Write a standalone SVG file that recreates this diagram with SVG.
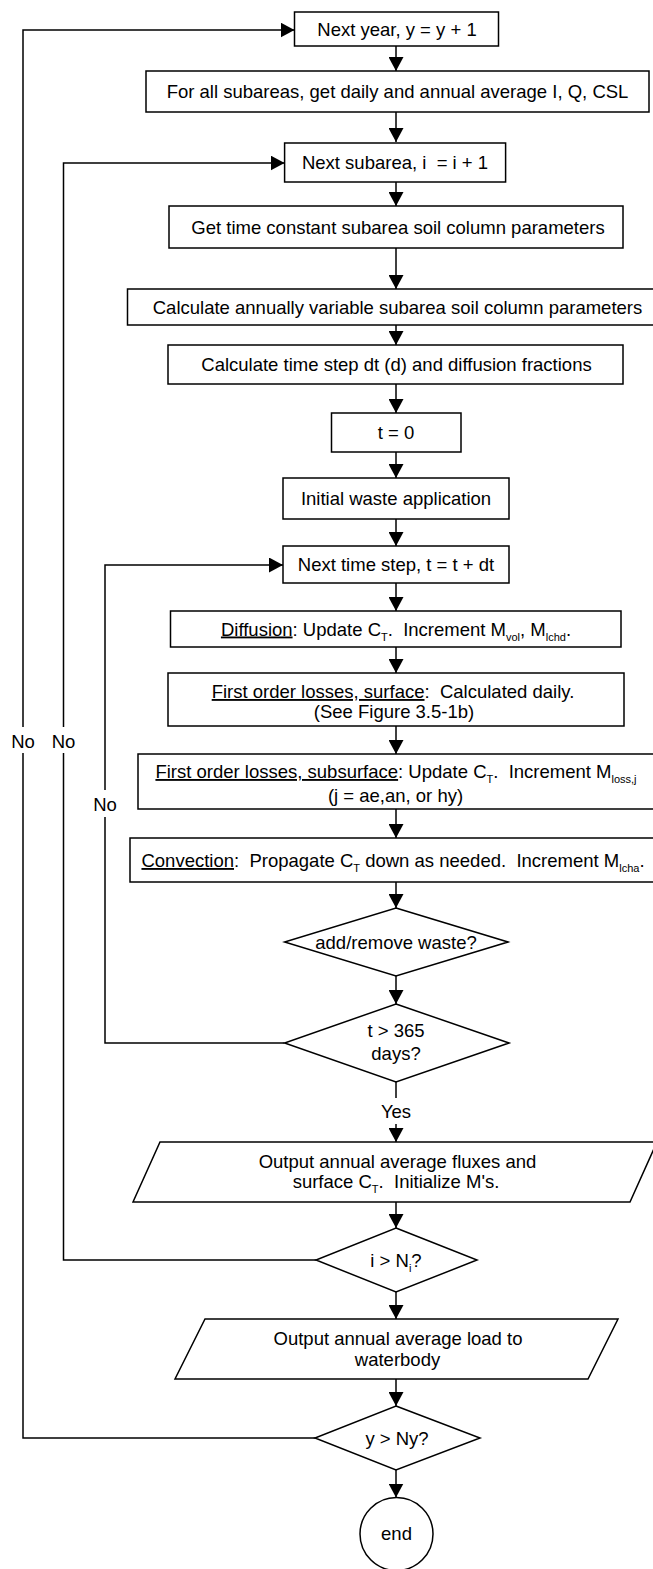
<svg xmlns="http://www.w3.org/2000/svg" width="653" height="1569" viewBox="0 0 653 1569">
<style>
.box{fill:#fff;stroke:#000;stroke-width:1.5}
.t{font-family:"Liberation Sans",Arial,sans-serif;font-size:18.5px;fill:#000;text-anchor:middle}
.s{font-size:11px}
.u{text-decoration:underline}
.c{fill:none;stroke:#000;stroke-width:1.5}
.a{fill:none;stroke:#000;stroke-width:1.5;marker-end:url(#ah)}
</style>
<defs>
<marker id="ah" viewBox="0 0 14 15" refX="14" refY="7.5" markerWidth="14" markerHeight="15" markerUnits="userSpaceOnUse" orient="auto"><path d="M0,0 L14,7.5 L0,15 z" fill="#000"/></marker>
</defs>
<rect x="0" y="0" width="653" height="1569" fill="#fff"/>
<g id="connectors">
<path class="a" d="M396,46 V71"/>
<path class="a" d="M396,112 V142"/>
<path class="a" d="M396,182 V206"/>
<path class="a" d="M396,248 V289"/>
<path class="a" d="M396,325 V345"/>
<path class="a" d="M396,384 V413"/>
<path class="a" d="M396,452 V478"/>
<path class="a" d="M396,519 V546"/>
<path class="a" d="M396,583 V611"/>
<path class="a" d="M396,647 V673"/>
<path class="a" d="M396,726 V754"/>
<path class="a" d="M396,809 V838"/>
<path class="a" d="M396,882 V908"/>
<path class="a" d="M396,976 V1004"/>
<path class="c" d="M396,1082 V1098"/>
<path class="a" d="M396,1124 V1142"/>
<path class="a" d="M396,1202 V1228"/>
<path class="a" d="M396,1292 V1319"/>
<path class="a" d="M396,1379 V1406"/>
<path class="a" d="M396,1470 V1497.5"/>
<path class="c" d="M284.6,1043 H105 V817"/>
<path class="a" d="M105,790 V565 H283"/>
<path class="c" d="M316,1260 H63.5 V753"/>
<path class="a" d="M63.5,727 V163 H284.6"/>
<path class="c" d="M315,1438 H23 V753"/>
<path class="a" d="M23,727 V30 H294.5"/>
<text class="t" x="23" y="748">No</text>
<text class="t" x="63.5" y="748">No</text>
<text class="t" x="105" y="810.5">No</text>
<text class="t" x="396" y="1118">Yes</text>
</g>
<g id="n-nextyear"><rect class="box" x="294.5" y="12" width="204" height="34"/><text class="t" x="397" y="35.5">Next year, y = y + 1</text></g>
<g id="n-getIQ"><rect class="box" x="146" y="71" width="503" height="41"/><text class="t" x="397.5" y="97.5">For all subareas, get daily and annual average I, Q, CSL</text></g>
<g id="n-nextsub"><rect class="box" x="284.6" y="143" width="221" height="39"/><text class="t" x="395" y="169">Next subarea, i&#160; = i + 1</text></g>
<g id="n-getconst"><rect class="box" x="169" y="206" width="454" height="42"/><text class="t" x="398" y="233.5">Get time constant subarea soil column parameters</text></g>
<g id="n-calcannual"><rect class="box" x="127.5" y="289" width="528" height="36"/><text class="t" x="397.5" y="313.5">Calculate annually variable subarea soil column parameters</text></g>
<g id="n-calcdt"><rect class="box" x="168" y="345" width="455" height="39"/><text class="t" x="396.5" y="371">Calculate time step dt (d) and diffusion fractions</text></g>
<g id="n-t0"><rect class="box" x="331.5" y="413" width="129.5" height="39"/><text class="t" x="396" y="439">t = 0</text></g>
<g id="n-initwaste"><rect class="box" x="283" y="478" width="226" height="41"/><text class="t" x="396" y="505">Initial waste application</text></g>
<g id="n-nextstep"><rect class="box" x="283" y="546" width="226" height="37"/><text class="t" x="396" y="571">Next time step, t = t + dt</text></g>
<g id="n-diffusion"><rect class="box" x="170.5" y="611" width="450.5" height="36"/><text class="t" x="396" y="635.5"><tspan class="u">Diffusion</tspan>: Update C<tspan class="s" dy="5">T</tspan><tspan dy="-5">.&#160; Increment M</tspan><tspan class="s" dy="5">vol</tspan><tspan dy="-5">, M</tspan><tspan class="s" dy="5">lchd</tspan><tspan dy="-5">.</tspan></text></g>
<g id="n-fosurf"><rect class="box" x="168" y="673" width="456" height="53"/><text class="t" x="393" y="698"><tspan class="u">First order losses, surface</tspan>:&#160; Calculated daily.</text><text class="t" x="394" y="717.5">(See Figure 3.5-1b)</text></g>
<g id="n-fosub"><rect class="box" x="138" y="754" width="517" height="55"/><text class="t" x="396" y="778"><tspan class="u">First order losses, subsurface</tspan>: Update C<tspan class="s" dy="5">T</tspan><tspan dy="-5">.&#160; Increment M</tspan><tspan class="s" dy="5">loss,j</tspan></text><text class="t" x="395.5" y="801.5">(j = ae,an, or hy)</text></g>
<g id="n-convection"><rect class="box" x="130" y="838" width="525" height="44"/><text class="t" x="393" y="867"><tspan class="u">Convection</tspan>:&#160; Propagate C<tspan class="s" dy="5">T</tspan><tspan dy="-5"> down as needed.&#160; Increment M</tspan><tspan class="s" dy="5">lcha</tspan><tspan dy="-5">.</tspan></text></g>
<g id="n-addremove"><polygon class="box" points="396,908 508,942 396,976 284.6,942"/><text class="t" x="396" y="948.5">add/remove waste?</text></g>
<g id="n-t365"><polygon class="box" points="396,1004 509,1043 396,1082 284.6,1043"/><text class="t" x="396" y="1036.5">t &gt; 365</text><text class="t" x="396" y="1059.5">days?</text></g>
<g id="n-output1"><polygon class="box" points="160,1142 657,1142 630,1202 133,1202"/><text class="t" x="397.5" y="1167.5">Output annual average fluxes and</text><text class="t" x="396" y="1188">surface C<tspan class="s" dy="5">T</tspan><tspan dy="-5">.&#160; Initialize M's.</tspan></text></g>
<g id="n-ini"><polygon class="box" points="396,1228 477,1260 396,1292 316,1260"/><text class="t" x="396" y="1266.5">i &gt; N<tspan class="s" dy="5">i</tspan><tspan dy="-5">?</tspan></text></g>
<g id="n-output2"><polygon class="box" points="205,1319 618,1319 588,1379 175,1379"/><text class="t" x="398" y="1344.5">Output annual average load to</text><text class="t" x="397.5" y="1366">waterbody</text></g>
<g id="n-yny"><polygon class="box" points="396,1406 480,1438 396,1470 315,1438"/><text class="t" x="397" y="1444.5">y &gt; Ny?</text></g>
<g id="n-end"><circle class="box" cx="396.5" cy="1534" r="36.5"/><text class="t" x="396.5" y="1539.5">end</text></g>
</svg>
